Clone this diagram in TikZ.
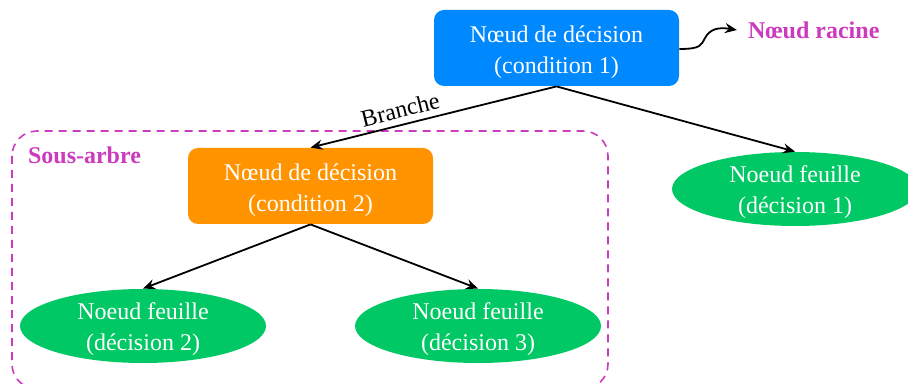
\documentclass[tikz,border=0pt]{standalone}
\usepackage{fontspec}
\setmainfont{Liberation Serif}
\usetikzlibrary{shapes.geometric,arrows.meta}
\definecolor{rootblue}{RGB}{0,136,255}
\definecolor{splitorange}{RGB}{255,148,0}
\definecolor{leafgreen}{RGB}{0,200,100}
\definecolor{tagmagenta}{RGB}{204,58,190}
% two-line label that takes no room, so that a node keeps its set size
\newcommand\twolines[3]{\raisebox{-#1}[0pt][0pt]{\makebox[0pt]{\begin{tabular}{@{}c@{}}#2\\#3\end{tabular}}}}
\tikzset{
  basefont/.style={font=\fontsize{12pt}{15.5pt}\selectfont},
  decision/.style={rectangle, rounded corners=5pt, fill=#1, text=white,
    minimum width=122.5pt, minimum height=38pt, inner sep=0pt},
  leaf/.style={ellipse, fill=leafgreen, text=white, minimum width=123pt,
    minimum height=37pt, inner sep=0pt},
  edge/.style={-{Stealth[length=6pt,width=5pt,inset=2pt]}, line width=0.9pt, black},
  tag/.style={text=tagmagenta, font=\fontsize{12pt}{15.5pt}\selectfont\bfseries},
}
\begin{document}
\begin{tikzpicture}[x=0.5pt, y=-0.5pt, basefont]
\useasboundingbox (0,0) rectangle (908,384);
\begin{scope}
\clip (0,0) rectangle (908,384);
% sub-tree frame
\draw[tagmagenta, line width=0.8pt, rounded corners=12.5pt, dash pattern=on 4pt off 3pt]
  (12,131) rectangle (608,389);
\node[tag, anchor=west] (subtree) at (21,155) {Sous-arbre};

% nodes
\node[decision=rootblue] (root) at (556.5,48) {\twolines{5pt}{Nœud de décision}{(condition 1)}};
\node[decision=splitorange] (split) at (310.5,186) {\twolines{5pt}{Nœud de décision}{(condition 2)}};
\node[leaf] (leaf1) at (795,189) {\twolines{4.5pt}{Noeud feuille}{(décision 1)}};
\node[leaf] (leaf2) at (143,326) {\twolines{4.5pt}{Noeud feuille}{(décision 2)}};
\node[leaf] (leaf3) at (478,326) {\twolines{4.5pt}{Noeud feuille}{(décision 3)}};
\node[tag, anchor=west] (rootlabel) at (741,30) {Nœud racine};

% connectors
\draw[edge] (root.south) -- node[pos=0.62, sloped, above, inner sep=3pt, text=black] {Branche} (split.north);
\draw[edge] (root.south) -- (leaf1.north);
\draw[edge] (split.south) -- (leaf2.north);
\draw[edge] (split.south) -- (leaf3.north);
\draw[edge] ([yshift=-0.5pt]root.east) .. controls +(22,0) and (701,45) .. (705,38)
  .. controls (710,29) and (718,27) .. ([xshift=-2pt]rootlabel.west);
\end{scope}
\end{tikzpicture}
\end{document}
